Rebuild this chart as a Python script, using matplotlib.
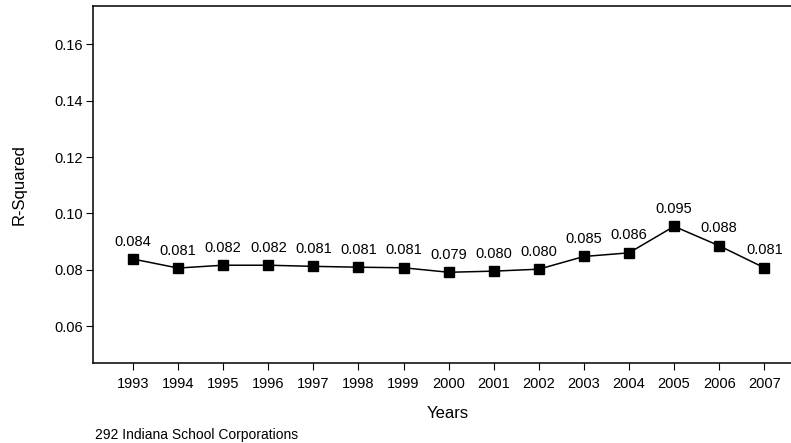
import matplotlib.pyplot as plt

plt.rcParams['font.family'] = ['Liberation Sans', 'DejaVu Sans']

# dati
years = [1993, 1994, 1995, 1996, 1997, 1998, 1999, 2000, 2001, 2002, 2003, 2004, 2005, 2006, 2007]
r_squared = [0.0838, 0.0806, 0.0816, 0.0816, 0.0812, 0.0809, 0.0807, 0.0791, 0.0795, 0.0802,
             0.0847, 0.0860, 0.0954, 0.0885, 0.0807]
value_labels = ['0.084', '0.081', '0.082', '0.082', '0.081', '0.081', '0.081', '0.079', '0.080',
                '0.080', '0.085', '0.086', '0.095', '0.088', '0.081']
y_ticks = [0.06, 0.08, 0.10, 0.12, 0.14, 0.16]

fig = plt.figure(figsize=(7.91, 4.43), dpi=100)
ax = fig.add_axes([93 / 791, 80 / 443, 698 / 791, 357 / 443])

ax.plot(years, r_squared, color='black', linewidth=1.1, marker='s', markersize=6.5,
        markerfacecolor='black', markeredgecolor='black')

for x, y, lab in zip(years, r_squared, value_labels):
    ax.annotate(lab, (x, y), xytext=(0, 12.5), textcoords='offset points',
                ha='center', va='center', fontsize=10.5)

ax.set_xlim(1992.113, 2007.592)
ax.set_ylim(0.0469, 0.1736)
ax.set_xticks(years)
ax.set_xticklabels([str(y) for y in years])
ax.set_yticks(y_ticks)
ax.set_yticklabels(['%.2f' % t for t in y_ticks])

ax.spines['right'].set_visible(False)
for s in ['left', 'bottom', 'top']:
    ax.spines[s].set_linewidth(1.1)
ax.tick_params(axis='both', direction='out', length=5, width=0.8, labelsize=10.5)
ax.tick_params(axis='x', pad=5)
ax.tick_params(axis='y', pad=2)

fig.text(19 / 791, 1 - 185 / 443, 'R-Squared', rotation=90, ha='center', va='center', fontsize=12)
fig.text(448 / 791, 1 - 413 / 443, 'Years', ha='center', va='center', fontsize=12)
fig.text(95 / 791, 1 - 435 / 443, '292 Indiana School Corporations', ha='left', va='center',
         fontsize=10)

fig.savefig('out.png', dpi=100)
